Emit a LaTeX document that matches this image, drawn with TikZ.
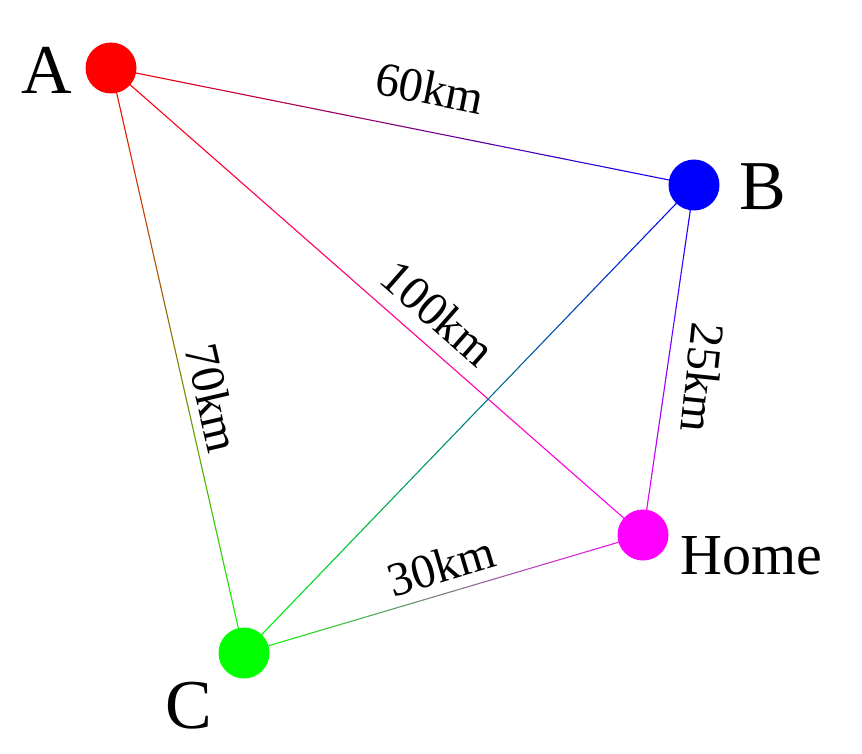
\documentclass[tikz,border=0pt]{standalone}
\usepackage{fontspec}
\setmainfont{Liberation Serif}
\usetikzlibrary{calc}
\definecolor{cA}{RGB}{255,0,0}
\definecolor{cB}{RGB}{0,0,255}
\definecolor{cC}{RGB}{0,255,0}
\definecolor{cH}{RGB}{255,0,255}
\pgfdeclarelayer{background}
\pgfsetlayers{background,main}
\newcommand\gradedge[4]{%
  \foreach \i in {0,...,39}{%
    \pgfmathsetmacro\p{100-(\i+0.5)*2.5}%
    \draw[edgeline,#3!\p!#4] ($(#1)!{\i/40}!(#2)$) -- ($(#1)!{(\i+1)/40}!(#2)$);
  }%
}
\begin{document}
\begin{tikzpicture}[x=1pt,y=-1pt,
  dot/.style={circle,inner sep=0pt,minimum size=51pt,draw=none},
  bigname/.style={font=\fontsize{70}{80}\selectfont,inner sep=0pt},
  homename/.style={font=\fontsize{58}{68}\selectfont,inner sep=0pt},
  dist/.style={font=\fontsize{48}{56}\selectfont,inner sep=0pt},
  edgeline/.style={line width=1.1pt,line cap=round}]
\useasboundingbox (0,0) rectangle (862,754);
\node[dot,fill=cA] (A) at (111,68) {};
\node[dot,fill=cB] (B) at (694,185) {};
\node[dot,fill=cH] (H) at (643,535) {};
\node[dot,fill=cC] (C) at (244,653) {};
\begin{pgfonlayer}{background}
\gradedge{A}{B}{cA}{cB}
\gradedge{A}{C}{cA}{cC}
\gradedge{A}{H}{cA}{cH}
\gradedge{B}{C}{cB}{cC}
\gradedge{B}{H}{cB}{cH}
\gradedge{C}{H}{cC}{cH}
\end{pgfonlayer}
\node[bigname] (la) at (47,70) {A};
\node[bigname] (lb) at (763,187) {B};
\node[homename] (lh) at (751,556) {Home};
\node[bigname] (lc) at (189,706) {C};
\node[dist,rotate=-11.3] (d1) at (430,88) {60km};
\node[dist,rotate=-41.3] (d2) at (438,313) {100km};
\node[dist,rotate=-96] (d3) at (703,378) {25km};
\node[dist,rotate=-77] (d4) at (213,398) {70km};
\node[dist,rotate=16.6] (d5) at (441,566) {30km};
\end{tikzpicture}
\end{document}
